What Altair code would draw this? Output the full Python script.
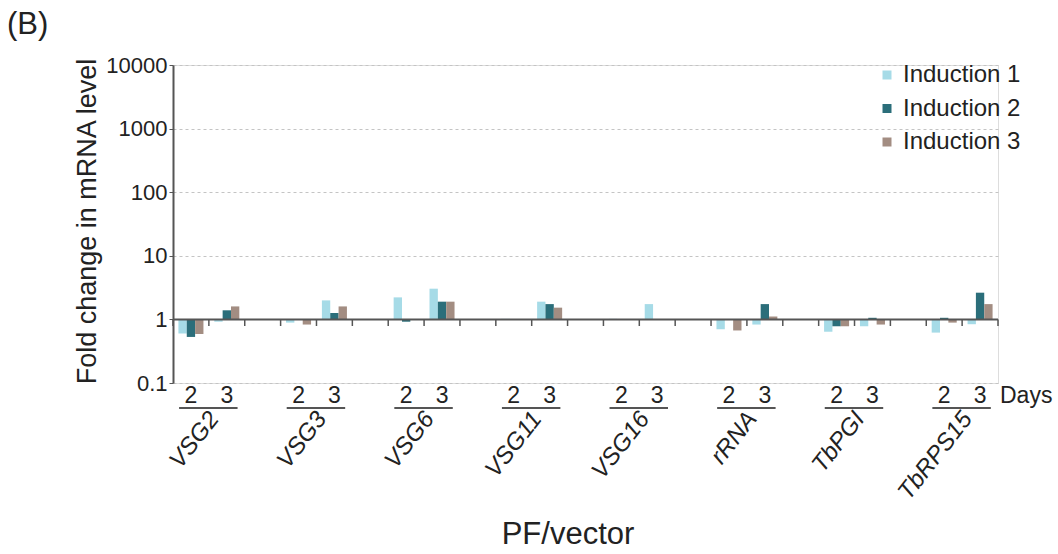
import altair as alt
import pandas as pd

# Genes and time points (days after induction)
genes = ["VSG2", "VSG3", "VSG6", "VSG11", "VSG16", "rRNA", "TbPGI", "TbRPS15"]
days = ["2", "3"]
series = ["Induction 1", "Induction 2", "Induction 3"]
colors = ["#a6dbe7", "#2b6e7a", "#a38d82"]

# Fold change per gene, day 2 then day 3
induction_1 = [0.60, 0.92, 0.89, 1.99, 2.22, 3.04, 1.02, 1.90,
               1.02, 1.74, 0.70, 0.83, 0.64, 0.78, 0.62, 0.84]
induction_2 = [0.53, 1.39, 0.98, 1.26, 0.92, 1.90, 0.99, 1.74,
               1.00, 1.00, 1.00, 1.74, 0.78, 1.06, 1.06, 2.63]
induction_3 = [0.59, 1.60, 0.83, 1.60, 1.00, 1.90, 1.00, 1.53,
               1.00, 1.00, 0.67, 1.11, 0.78, 0.83, 0.89, 1.74]

y_ticks = [0.1, 1, 10, 100, 1000, 10000]

FONT = "Liberation Sans"
W, H = 825, 318

# x slots: two day columns per gene, an empty column between genes
slots = []
for i, g in enumerate(genes):
    slots += [f"{g} {d}" for d in days]
    if i < len(genes) - 1:
        slots.append(f"gap {i}")

rows = []
for s_name, vals in zip(series, [induction_1, induction_2, induction_3]):
    k = 0
    for g in genes:
        for d in days:
            rows.append({"slot": f"{g} {d}", "series": s_name, "value": vals[k]})
            k += 1
bars_df = pd.DataFrame(rows)

day_df = pd.DataFrame([{"slot": f"{g} {d}", "day": d} for g in genes for d in days])
gene_df = pd.DataFrame([{"slot": f"{g} 2", "end": f"{g} 3", "gene": g} for g in genes])
tick_df = pd.DataFrame({"slot": slots})

xscale = alt.Scale(domain=slots, paddingInner=0, paddingOuter=0)
yscale = alt.Scale(type="log", domain=[0.1, 10000])

bars = alt.Chart(bars_df).mark_bar().encode(
    x=alt.X("slot:N", scale=xscale, axis=None, sort=slots),
    xOffset=alt.XOffset("series:N", scale=alt.Scale(domain=series, paddingOuter=0.65, paddingInner=0)),
    y=alt.Y("value:Q", scale=yscale, axis=alt.Axis(
        values=y_ticks, format="~g", labelFontSize=22, labelFont=FONT, labelColor="#222",
        labelPadding=2, tickSize=4, tickColor="#555", domainColor="#555", domainWidth=2,
        grid=True, gridDash=[3, 3], gridColor="#c4c4c4", gridWidth=1,
        title="Fold change in mRNA level", titleFontSize=27, titleFont=FONT,
        titleFontWeight="normal", titleColor="#222", titleX=-86, titleY=156,
        titleAngle=270, titleAlign="center", titleBaseline="middle")),
    y2=alt.datum(1),
    color=alt.Color("series:N", scale=alt.Scale(domain=series, range=colors), legend=alt.Legend(
        title=None, orient="none", legendX=702, legendY=-2, symbolType="square",
        symbolSize=81, symbolStrokeWidth=0, labelFontSize=24, labelFont=FONT,
        labelColor="#222", labelOffset=4, rowPadding=9.5)),
)

baseline = alt.Chart(pd.DataFrame({"v": [1]})).mark_rule(color="#555", strokeWidth=2).encode(
    y=alt.Y("v:Q", scale=yscale), x=alt.value(0), x2=alt.value(W)
)

ticks = alt.Chart(tick_df).mark_rule(color="#555", strokeWidth=1.5).encode(
    x=alt.X("slot:N", scale=xscale, bandPosition=0, axis=None),
    y=alt.datum(1), y2=alt.value(261),
)
end_tick = alt.Chart(pd.DataFrame({"v": [1]})).mark_rule(color="#555", strokeWidth=1.5).encode(
    x=alt.value(W), y=alt.datum(1), y2=alt.value(261)
)

day_text = alt.Chart(day_df).mark_text(fontSize=23, font=FONT, color="#222", baseline="middle").encode(
    x=alt.X("slot:N", scale=xscale, axis=None), y=alt.value(331), text="day:N"
)

underline = alt.Chart(gene_df).mark_rule(color="#555", strokeWidth=2).encode(
    x=alt.X("slot:N", scale=xscale, bandPosition=0.17, axis=None),
    x2=alt.X2("end:N", bandPosition=0.8),
    y=alt.value(343),
)

gene_text = alt.Chart(gene_df).mark_text(
    fontSize=24, font=FONT, color="#222", fontStyle="italic", angle=308,
    align="right", baseline="middle", dx=9
).encode(
    x=alt.X("slot:N", scale=xscale, bandPosition=1, axis=None), y=alt.value(357), text="gene:N"
)

one = pd.DataFrame({"t": [""]})
days_label = alt.Chart(one).mark_text(fontSize=23, font=FONT, color="#222", align="left", baseline="middle").encode(
    x=alt.value(827), y=alt.value(331), text=alt.value("Days")
)
x_title = alt.Chart(one).mark_text(fontSize=31, font=FONT, color="#222", align="center", baseline="middle").encode(
    x=alt.value(395), y=alt.value(470), text=alt.value("PF/vector")
)
panel = alt.Chart(one).mark_text(fontSize=31, font=FONT, color="#222", align="left", baseline="middle").encode(
    x=alt.value(-166), y=alt.value(-40), text=alt.value("(B)")
)

chart = alt.layer(
    bars, baseline, ticks, end_tick, day_text, underline, gene_text, days_label, x_title, panel
).properties(
    width=W, height=H,
    autosize=alt.AutoSizeParams(type="none"),
    padding={"left": 173, "top": 65, "right": 60, "bottom": 171},
).configure_view(stroke=None).configure(font=FONT, background="white")

chart.save("out.html", embed_options={"renderer": "svg", "actions": False})
